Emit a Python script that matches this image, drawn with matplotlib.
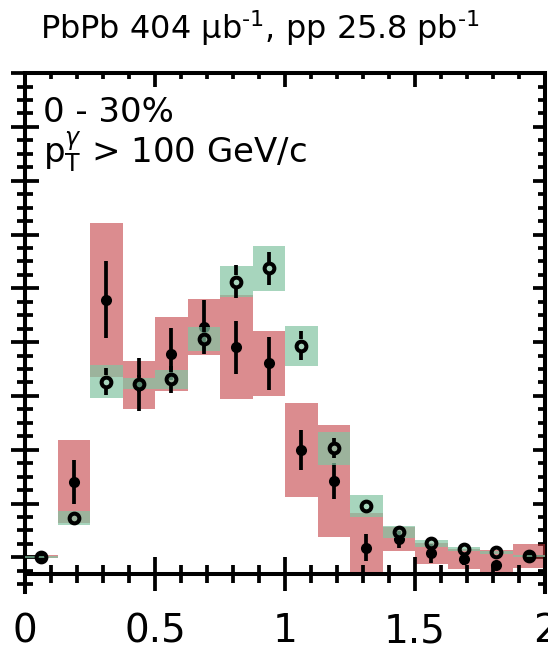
import numpy as np
import matplotlib
matplotlib.use("Agg")
import matplotlib.pyplot as plt
from matplotlib.patches import Rectangle
from matplotlib.ticker import MultipleLocator

# x_Jgamma distribution, 0-30%, pT(gamma) > 100 GeV/c
bin_lo = [0.0, 0.125, 0.25, 0.375, 0.5, 0.625, 0.75, 0.875,
          1.0, 1.125, 1.25, 1.375, 1.5, 1.625, 1.75, 1.875]
bin_hi = [0.125, 0.25, 0.375, 0.5, 0.625, 0.75, 0.875, 1.0,
          1.125, 1.25, 1.375, 1.5, 1.625, 1.75, 1.875, 2.0]

pbpb = [0.003, 0.281, 0.957, 0.642, 0.756, 0.857, 0.781, 0.721,
        0.399, 0.284, 0.036, 0.067, 0.015, -0.007, -0.028, 0.005]
pbpb_stat = [0.010, 0.082, 0.143, 0.099, 0.098, 0.100, 0.098, 0.098,
             0.076, 0.067, 0.050, 0.031, 0.035, 0.020, 0.015, 0.010]
pbpb_sys = [0.006, 0.155, 0.286, 0.089, 0.137, 0.104, 0.193, 0.120,
            0.174, 0.209, 0.128, 0.045, 0.040, 0.037, 0.055, 0.043]

pp = [0.002, 0.145, 0.653, 0.646, 0.662, 0.811, 1.025, 1.074,
      0.787, 0.405, 0.191, 0.095, 0.052, 0.030, 0.019, 0.005]
pp_stat = [0.003, 0.020, 0.051, 0.030, 0.050, 0.045, 0.062, 0.062,
           0.054, 0.037, 0.020, 0.015, 0.012, 0.010, 0.010, 0.005]
pp_sys = [0.003, 0.026, 0.061, 0.022, 0.036, 0.045, 0.059, 0.084,
          0.074, 0.062, 0.040, 0.022, 0.012, 0.008, 0.006, 0.005]

x_ticks = [0.0, 0.5, 1.0, 1.5, 2.0]
x_tick_labels = ["0", "0.5", "1", "1.5", "2"]

X_AXIS_Y = -0.0625
Y_MIN, Y_MAX = -0.13, 1.8

PINK = (0.745, 0.18, 0.2, 0.55)
GREEN = (0.51, 0.77, 0.635, 0.7)
LW = 2.7


def draw_boxes(ax, vals, sys, color, z):
    for x0, x1, v, s in zip(bin_lo, bin_hi, vals, sys):
        lo = max(v - s, X_AXIS_Y)
        hi = v + s
        if hi <= lo:
            continue
        ax.add_patch(Rectangle((x0, lo), x1 - x0, hi - lo, facecolor=color,
                               edgecolor="none", linewidth=0, zorder=z))


def draw_open_points(ax, xs, vals, errs, ms, mew, z):
    # error bars stop at the edge of the hollow marker
    y0 = ax.transData.transform((0, 0))[1]
    y1 = ax.transData.transform((0, 1))[1]
    px_per_unit = y1 - y0
    gap = (ms + mew) / 2 * ax.figure.dpi / 72 / px_per_unit
    for x, v, e in zip(xs, vals, errs):
        if e > gap:
            ax.vlines(x, v + gap, v + e, color="k", lw=LW, zorder=z)
            ax.vlines(x, v - e, v - gap, color="k", lw=LW, zorder=z)
    ax.plot(xs, vals, "o", mfc="none", mec="k", ms=ms, mew=mew, zorder=z + 1)


fig = plt.figure(figsize=(5.48, 6.49), dpi=100)
ax = fig.add_axes([25 / 548, 1 - 592.3 / 649, 520 / 548, 519.2 / 649])
ax.set_xlim(0, 2)
ax.set_ylim(Y_MIN, Y_MAX)

centers = [(a + b) / 2 for a, b in zip(bin_lo, bin_hi)]

# PbPb: pink systematics + filled points, pp: green systematics drawn over them
draw_boxes(ax, pbpb, pbpb_sys, PINK, 1)
ax.errorbar(centers, pbpb, yerr=pbpb_stat, fmt="o", color="k", ms=8,
            mew=0, elinewidth=LW, capsize=0, zorder=2)
draw_boxes(ax, pp, pp_sys, GREEN, 3)
draw_open_points(ax, centers, pp, pp_stat, ms=7.0, mew=2.9, z=4)

# frame: x axis sits slightly below zero, spines run past it
ax.spines["bottom"].set_position(("data", X_AXIS_Y))
ax.spines["top"].set_visible(False)
ax.spines["right"].set_visible(False)
for side in ("bottom", "left"):
    ax.spines[side].set_linewidth(2.9)

ax.set_xticks(x_ticks, x_tick_labels)
ax.xaxis.set_minor_locator(MultipleLocator(0.1))
ax.yaxis.set_major_locator(MultipleLocator(0.2))
ax.yaxis.set_minor_locator(MultipleLocator(0.05))
ax.tick_params(axis="x", which="major", direction="inout", length=25,
               width=LW, labelsize=28, pad=15, top=False)
ax.tick_params(axis="x", which="minor", direction="inout", length=13,
               width=LW, top=False)
ax.tick_params(axis="y", which="major", direction="inout", length=19.5,
               width=LW, labelleft=False, right=False)
ax.tick_params(axis="y", which="minor", direction="inout", length=11,
               width=LW, right=False)

top = ax.secondary_xaxis("top")
top.xaxis.set_major_locator(MultipleLocator(0.5))
top.xaxis.set_minor_locator(MultipleLocator(0.1))
top.tick_params(which="major", direction="in", length=10, width=LW, labeltop=False)
top.tick_params(which="minor", direction="in", length=4.6, width=LW)
top.spines["top"].set_linewidth(2.9)

right = ax.secondary_yaxis("right")
right.yaxis.set_major_locator(MultipleLocator(0.2))
right.yaxis.set_minor_locator(MultipleLocator(0.05))
right.tick_params(which="major", direction="in", length=8.5, width=LW, labelright=False)
right.tick_params(which="minor", direction="in", length=4.8, width=LW)
right.spines["right"].set_linewidth(2.9)

ax.text(0.034, 0.9064, "0 - 30%", transform=ax.transAxes, fontsize=24.5,
        ha="left", va="baseline")
ax.text(0.034, 0.8263, r"$\mathrm{p}_{\mathrm{T}}^{\gamma}$ > 100 GeV/c",
        transform=ax.transAxes, fontsize=24.5, ha="left", va="baseline")

fig.text(0.474, 0.9394, r"PbPb 404 μb$^{\text{-1}}$, pp 25.8 pb$^{\text{-1}}$",
         fontsize=23, ha="center", va="baseline")

fig.savefig("out.png", dpi=100)
